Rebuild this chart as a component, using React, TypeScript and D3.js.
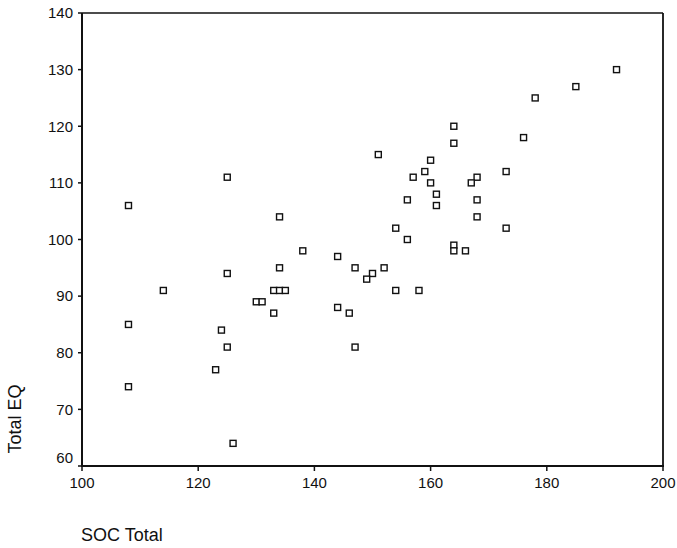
import React from "react";
import * as d3 from "d3";

const socTotal = [108,125,134,192,185,178,164,164,176,151,160,159,157,160,168,167,173,161,161,156,168,168,173,154,156,
114,108,108,125,124,125,123,126,138,134,130,131,133,134,135,133,144,147,144,146,147,
164,164,166,152,150,149,154,158];
const totalEQ = [106,111,104,130,127,125,120,117,118,115,114,112,111,110,111,110,112,108,106,107,107,104,102,102,100,
91,85,74,94,84,81,77,64,98,95,89,89,91,91,91,87,97,95,88,87,81,
99,98,98,95,94,93,91,91];
const xTicks = [100,120,140,160,180,200];
const yTicks = [60,70,80,90,100,110,120,130,140];

const W = 677, H = 548;
const font = "Liberation Sans, Arial, sans-serif";

export default function App() {
  const x = d3.scaleLinear().domain([100, 200]).range([82, 663]);
  const y = d3.scaleLinear().domain([60, 140]).range([466, 13]);
  const pts = socTotal.map((v, i) => ({ x: v, y: totalEQ[i] }));
  const s = 6;
  return (
    <svg width={W} height={H} style={{ position: "absolute", left: 0, top: 0, background: "#fff" }}>
      <rect x={0} y={0} width={W} height={H} fill="#fff" />
      {/* frame */}
      <line x1={x(100)} x2={x(200)} y1={y(140)} y2={y(140)} stroke="#111" strokeWidth={1.5} />
      <line x1={x(200)} x2={x(200)} y1={y(140)} y2={y(60)} stroke="#111" strokeWidth={1.8} />
      <line x1={x(100)} x2={x(100)} y1={y(140)} y2={y(60) + 1} stroke="#111" strokeWidth={2} />
      <line x1={x(100) - 1} x2={x(200) + 1} y1={y(60)} y2={y(60)} stroke="#111" strokeWidth={2} />
      {yTicks.map((t, i) => (
        <g key={"y" + t}>
          <line x1={x(100) - 4} x2={x(100)} y1={y(t)} y2={y(t)} stroke="#111" strokeWidth={1.5} />
          <text x={73} y={y(t) + (i === 0 ? -8 : 0)} dy="0.35em" textAnchor="end" fontFamily={font} fontSize={15} fill="#111">{t}</text>
        </g>
      ))}
      {xTicks.map((t) => (
        <g key={"x" + t}>
          <line x1={x(t)} x2={x(t)} y1={y(60)} y2={y(60) + 5} stroke="#111" strokeWidth={1.5} />
          <text x={x(t)} y={y(60) + 17} dy="0.35em" textAnchor="middle" fontFamily={font} fontSize={15} fill="#111">{t}</text>
        </g>
      ))}
      {pts.map((p, i) => (
        <rect key={i} x={x(p.x) - s / 2} y={y(p.y) - s / 2} width={s} height={s} fill="#fff" stroke="#111" strokeWidth={1.4} />
      ))}
      <text x={81} y={541} fontFamily={font} fontSize={18} fill="#111">SOC Total</text>
      <text transform={`translate(21,419) rotate(-90)`} textAnchor="middle" fontFamily={font} fontSize={18} fill="#111">Total EQ</text>
    </svg>
  );
}
